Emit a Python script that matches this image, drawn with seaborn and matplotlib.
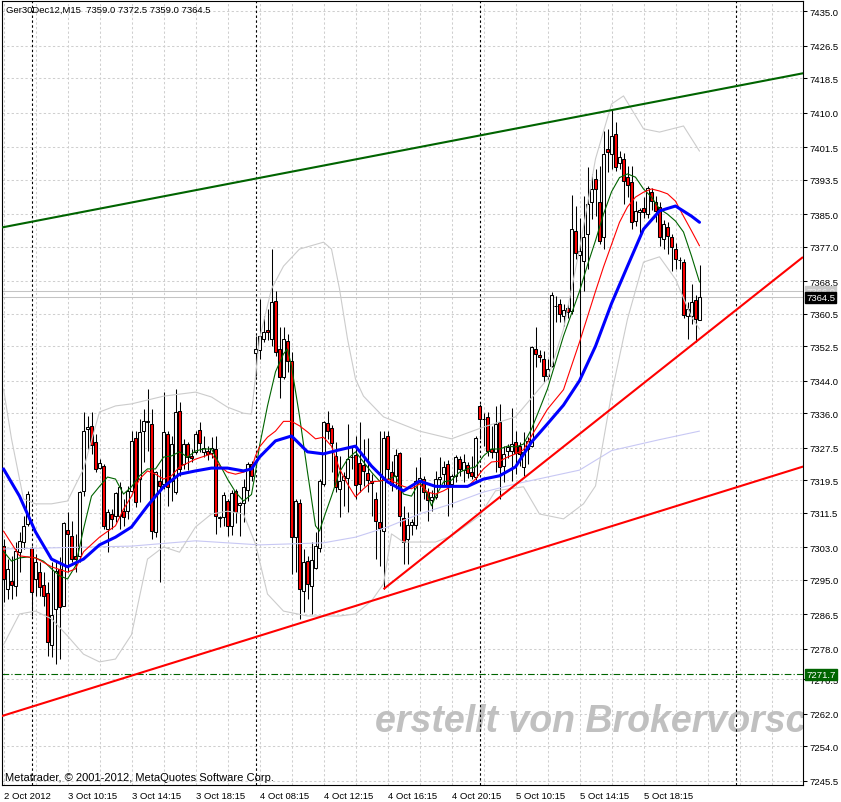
import matplotlib
matplotlib.use("Agg")
import numpy as np
import matplotlib.pyplot as plt
import matplotlib.transforms as mtransforms
import seaborn as sns

# ---------- Data (one entry per bar) ----------
opens = [
    7303.3, 7292.7, 7294.7, 7293.5, 7301.9, 7304.3, 7308.8, 7302.8, 7295.2, 7296.9,
    7293.7, 7291.8, 7279.0, 7287.8, 7297.7, 7288.5, 7307.2, 7305.8, 7300.9, 7300.9,
    7316.9, 7332.1, 7332.9, 7328.9, 7322.5, 7323.0, 7307.5, 7311.2, 7310.7, 7310.7,
    7312.0, 7311.9, 7316.9, 7329.9, 7319.8, 7331.6, 7333.8, 7333.4, 7306.8, 7319.3,
    7318.6, 7330.9, 7319.3, 7316.6, 7336.5, 7323.5, 7328.4, 7325.5, 7326.5, 7331.9,
    7326.5, 7326.7, 7326.2, 7327.2, 7310.2, 7310.5, 7314.4, 7308.3, 7316.9, 7313.5,
    7313.9, 7317.1, 7323.5, 7350.8, 7351.6, 7354.3, 7356.5, 7354.3, 7363.6, 7351.8,
    7344.9, 7353.8, 7348.9, 7305.5, 7313.9, 7292.2, 7299.6, 7293.5, 7297.9, 7302.8,
    7318.6, 7333.6, 7332.4, 7325.5, 7317.4, 7319.6, 7320.1, 7325.2, 7325.7, 7323.8,
    7323.3, 7321.3, 7319.3, 7314.9, 7309.2, 7307.0, 7330.4, 7321.5, 7320.6, 7326.2,
    7310.2, 7305.0, 7308.5, 7308.5, 7319.3, 7319.8, 7316.6, 7314.6, 7315.4, 7319.8,
    7321.0, 7323.5, 7318.6, 7320.6, 7324.8, 7322.0, 7323.3, 7321.5, 7320.3, 7337.8,
    7334.6, 7335.1, 7327.2, 7326.5, 7333.9, 7323.0, 7326.7, 7326.7, 7328.9, 7327.9,
    7322.8, 7327.2, 7327.9, 7351.8, 7350.3, 7349.3, 7345.2, 7347.6, 7362.3, 7362.9,
    7359.9, 7361.9, 7361.2, 7380.9, 7375.0, 7373.5, 7380.0, 7388.0, 7393.6, 7388.0,
    7379.4, 7401.0, 7399.8, 7404.7, 7397.6, 7398.6, 7394.1, 7392.9, 7383.3, 7385.5,
    7386.5, 7385.0, 7390.4, 7388.0, 7386.8, 7378.9, 7381.8, 7379.4, 7376.4, 7373.6,
    7373.2, 7359.9, 7359.9, 7363.9, 7359.0,
]
highs = [
    7305.0, 7300.1, 7300.9, 7304.3, 7306.8, 7310.7, 7316.9, 7303.3, 7301.4, 7299.4,
    7296.9, 7294.5, 7299.4, 7299.4, 7300.6, 7309.2, 7311.7, 7309.5, 7306.3, 7316.9,
    7336.3, 7335.3, 7336.3, 7330.9, 7324.8, 7323.5, 7312.4, 7312.4, 7316.6, 7319.1,
    7314.9, 7318.0, 7331.6, 7331.6, 7334.6, 7337.0, 7342.0, 7337.0, 7321.8, 7322.3,
    7341.2, 7331.6, 7330.4, 7342.0, 7338.8, 7329.7, 7329.0, 7327.2, 7331.6, 7333.8,
    7330.4, 7327.9, 7330.1, 7330.4, 7310.7, 7316.6, 7315.0, 7317.0, 7317.4, 7314.2,
    7319.8, 7324.0, 7324.2, 7355.0, 7364.1, 7360.0, 7361.7, 7376.4, 7366.1, 7357.2,
    7357.2, 7355.5, 7351.1, 7314.9, 7314.9, 7302.6, 7300.9, 7304.3, 7306.8, 7319.8,
    7334.1, 7336.5, 7333.0, 7328.9, 7325.5, 7321.5, 7333.4, 7327.7, 7330.4, 7333.8,
    7329.7, 7329.9, 7321.0, 7316.6, 7331.6, 7331.6, 7331.6, 7324.2, 7327.2, 7326.5,
    7313.2, 7311.7, 7310.0, 7322.8, 7325.2, 7320.5, 7317.5, 7317.0, 7321.8, 7325.2,
    7324.2, 7324.5, 7321.0, 7325.7, 7325.5, 7326.0, 7324.0, 7325.5, 7330.4, 7338.3,
    7336.0, 7336.3, 7332.9, 7337.8, 7338.3, 7328.0, 7328.5, 7337.3, 7331.6, 7329.0,
    7331.4, 7330.1, 7352.5, 7357.2, 7351.5, 7351.3, 7349.3, 7365.8, 7364.9, 7364.1,
    7363.0, 7363.0, 7389.7, 7387.0, 7384.0, 7389.5, 7396.6, 7394.9, 7396.1, 7396.9,
    7405.5, 7406.0, 7410.9, 7407.7, 7400.5, 7400.0, 7396.9, 7396.9, 7388.2, 7386.5,
    7389.2, 7391.9, 7391.5, 7389.5, 7388.0, 7383.5, 7383.0, 7380.0, 7378.0, 7374.5,
    7374.0, 7363.4, 7367.8, 7365.0, 7372.5,
]
lows = [
    7289.5, 7290.3, 7290.3, 7291.0, 7296.9, 7302.6, 7308.3, 7286.1, 7291.0, 7291.0,
    7288.6, 7276.3, 7276.0, 7274.3, 7275.5, 7288.5, 7296.9, 7299.4, 7296.9, 7299.4,
    7315.6, 7327.2, 7326.0, 7321.5, 7322.3, 7307.5, 7301.9, 7307.5, 7309.2, 7307.5,
    7308.3, 7310.0, 7316.6, 7312.9, 7314.2, 7324.0, 7326.7, 7305.0, 7305.5, 7294.5,
    7317.4, 7313.2, 7314.4, 7316.1, 7320.6, 7322.3, 7322.0, 7324.0, 7326.0, 7326.5,
    7325.2, 7324.5, 7325.0, 7306.3, 7308.0, 7308.3, 7305.8, 7306.0, 7309.0, 7305.8,
    7309.2, 7314.4, 7319.3, 7345.2, 7349.3, 7353.5, 7354.0, 7352.5, 7350.0, 7339.7,
    7344.4, 7346.2, 7296.4, 7296.9, 7285.4, 7287.1, 7290.3, 7286.6, 7297.7, 7301.9,
    7318.0, 7329.7, 7321.5, 7316.6, 7310.5, 7313.2, 7311.7, 7322.3, 7314.9, 7316.6,
    7318.0, 7316.6, 7310.7, 7300.1, 7298.4, 7292.7, 7319.8, 7316.9, 7317.4, 7308.3,
    7298.9, 7298.9, 7306.0, 7307.5, 7312.0, 7314.9, 7309.5, 7312.0, 7314.9, 7318.0,
    7318.0, 7310.7, 7312.9, 7319.0, 7320.5, 7319.0, 7320.0, 7319.8, 7319.5, 7329.7,
    7327.9, 7325.5, 7325.0, 7321.5, 7314.9, 7319.1, 7325.0, 7319.3, 7321.0, 7323.0,
    7320.6, 7323.5, 7327.7, 7347.4, 7348.5, 7343.7, 7344.4, 7347.4, 7358.5, 7358.5,
    7357.5, 7359.5, 7360.5, 7374.0, 7344.0, 7366.0, 7371.5, 7383.8, 7384.5, 7377.7,
    7376.4, 7395.4, 7396.1, 7395.6, 7396.1, 7387.5, 7389.2, 7381.3, 7382.1, 7379.6,
    7384.0, 7384.0, 7386.0, 7383.0, 7377.2, 7376.4, 7375.2, 7371.0, 7371.5, 7371.5,
    7359.5, 7354.3, 7358.0, 7353.5, 7359.0,
]
closes = [
    7295.2, 7297.7, 7293.7, 7302.1, 7304.6, 7308.3, 7316.1, 7292.0, 7299.4, 7293.2,
    7291.0, 7279.7, 7286.3, 7297.2, 7288.3, 7309.0, 7306.3, 7300.1, 7300.1, 7316.6,
    7331.6, 7332.6, 7328.2, 7322.3, 7323.8, 7308.3, 7311.7, 7310.0, 7316.4, 7317.9,
    7310.5, 7316.9, 7329.2, 7314.2, 7331.4, 7334.1, 7334.0, 7307.0, 7321.5, 7318.0,
    7331.4, 7317.9, 7328.4, 7336.3, 7322.3, 7328.4, 7325.2, 7325.0, 7330.9, 7328.7,
    7327.4, 7326.0, 7327.4, 7310.7, 7310.3, 7315.9, 7308.3, 7316.4, 7311.7, 7313.8,
    7317.9, 7323.5, 7320.6, 7351.8, 7355.0, 7356.0, 7356.0, 7363.4, 7351.1, 7344.9,
    7354.3, 7348.9, 7305.5, 7314.4, 7292.7, 7299.4, 7294.0, 7299.9, 7303.3, 7319.3,
    7333.8, 7331.6, 7328.7, 7317.9, 7319.3, 7320.6, 7324.8, 7325.3, 7318.3, 7318.6,
    7321.8, 7319.6, 7318.8, 7309.5, 7307.8, 7329.9, 7322.3, 7318.3, 7325.7, 7310.7,
    7304.3, 7308.5, 7309.2, 7319.3, 7320.0, 7316.6, 7314.6, 7315.4, 7319.8, 7320.3,
    7322.8, 7318.0, 7320.6, 7325.2, 7322.3, 7324.0, 7321.3, 7320.6, 7329.9, 7334.6,
    7334.5, 7326.7, 7326.5, 7333.4, 7322.8, 7326.0, 7327.7, 7328.4, 7326.2, 7326.0,
    7326.5, 7329.2, 7352.3, 7350.6, 7349.8, 7345.2, 7346.9, 7365.1, 7362.5, 7360.4,
    7361.4, 7360.9, 7381.3, 7375.4, 7376.0, 7379.4, 7387.5, 7391.2, 7391.2, 7378.4,
    7399.8, 7400.3, 7404.2, 7396.6, 7399.1, 7393.2, 7392.1, 7383.0, 7385.8, 7386.0,
    7385.5, 7391.4, 7388.2, 7385.8, 7379.4, 7382.6, 7379.6, 7376.9, 7374.0, 7373.8,
    7360.2, 7361.6, 7363.4, 7359.2, 7364.5,
]

# indicator lines, sampled at the bars where they were read
blue_bars = [0, 4, 8, 12, 16, 20, 24, 28, 32, 36, 40, 44, 48, 52, 56, 60, 62, 64, 68, 72,
             76, 80, 84, 88, 92, 96, 100, 104, 108, 112, 116, 120, 124, 128, 132, 136, 140,
             144, 148, 152, 156, 160, 164, 168, 172, 174]
blue_vals = [7322.3, 7315.6, 7306.8, 7300.1, 7298.2, 7300.1, 7303.6, 7305.5, 7308.0, 7313.2,
             7317.9, 7321.0, 7321.8, 7322.5, 7322.5, 7321.8, 7322.3, 7325.2, 7329.2, 7330.4,
             7326.5, 7326.0, 7327.0, 7327.9, 7323.0, 7319.1, 7316.9, 7319.3, 7318.0, 7318.0,
             7318.0, 7319.8, 7320.6, 7322.8, 7328.9, 7333.4, 7338.0, 7344.0, 7352.5, 7363.0,
             7372.2, 7381.3, 7385.8, 7387.0, 7384.5, 7383.0]

red_bars = [0, 4, 8, 12, 16, 18, 20, 24, 28, 30, 32, 34, 36, 38, 40, 42, 44, 48, 52, 54,
            56, 58, 60, 62, 63, 64, 66, 68, 70, 72, 74, 76, 78, 80, 82, 84, 86, 88, 90, 92,
            94, 96, 100, 102, 104, 106, 108, 110, 112, 116, 118, 120, 122, 124, 126, 128,
            130, 132, 136, 140, 144, 148, 150, 152, 154, 156, 158, 160, 162, 164, 166, 168,
            170, 172, 174]
red_vals = [7307.0, 7300.9, 7300.4, 7298.2, 7296.9, 7297.7, 7301.9, 7305.5, 7308.3, 7312.4,
            7315.6, 7319.8, 7321.8, 7321.0, 7319.8, 7320.6, 7322.8, 7324.7, 7326.0, 7323.0,
            7321.5, 7321.0, 7321.5, 7322.3, 7325.5, 7327.7, 7330.1, 7331.6, 7334.0, 7334.0,
            7332.9, 7331.4, 7329.7, 7330.1, 7327.9, 7322.3, 7318.6, 7315.4, 7317.4, 7319.1,
            7319.3, 7319.8, 7318.0, 7317.4, 7318.6, 7316.6, 7316.1, 7316.9, 7318.0, 7317.9,
            7319.8, 7322.3, 7324.0, 7324.2, 7325.2, 7326.0, 7327.0, 7330.4, 7337.0, 7341.8,
            7353.5, 7366.0, 7372.0, 7377.5, 7383.0, 7386.8, 7389.2, 7390.4, 7391.2, 7390.7,
            7390.0, 7388.2, 7384.5, 7380.9, 7377.2]

green_bars = [0, 2, 4, 6, 8, 10, 12, 14, 16, 18, 20, 22, 24, 26, 28, 30, 32, 34, 36, 38,
              40, 42, 44, 46, 48, 50, 52, 54, 56, 58, 60, 62, 63, 64, 66, 68, 70, 71, 72, 74,
              76, 78, 79, 80, 82, 84, 86, 88, 90, 92, 94, 96, 98, 100, 102, 104, 106, 107,
              108, 110, 112, 114, 116, 118, 120, 122, 124, 126, 128, 130, 132, 134, 136, 138,
              140, 142, 144, 146, 148, 150, 152, 154, 156, 158, 160, 162, 164, 166, 168, 170,
              172, 174]
green_vals = [7302.0, 7299.6, 7300.4, 7300.6, 7300.4, 7299.6, 7297.7, 7296.0, 7295.2, 7298.4,
              7307.5, 7315.6, 7318.0, 7320.3, 7319.8, 7316.1, 7317.9, 7320.6, 7322.3, 7322.3,
              7325.2, 7325.5, 7326.5, 7325.2, 7326.7, 7327.2, 7327.2, 7323.5, 7319.8, 7316.6,
              7314.4, 7316.0, 7321.5, 7327.9, 7337.8, 7346.2, 7350.6, 7351.8, 7347.6, 7335.3,
              7321.5, 7308.3, 7307.0, 7310.0, 7315.6, 7321.5, 7324.7, 7326.5, 7324.0, 7321.5,
              7319.3, 7319.6, 7320.6, 7316.1, 7315.6, 7319.1, 7316.0, 7313.2, 7315.4, 7319.1,
              7319.5, 7321.5, 7322.3, 7322.8, 7325.5, 7327.2, 7327.2, 7327.9, 7327.7, 7328.4,
              7332.1, 7337.0, 7342.0, 7348.5, 7355.0, 7360.5, 7366.0, 7372.5, 7378.5, 7385.0,
              7390.5, 7394.0, 7394.9, 7394.1, 7391.2, 7389.2, 7386.3, 7385.0, 7383.3, 7380.6,
              7374.7, 7368.3]

bb_up_bars = [0, 2, 5, 8, 12, 16, 20, 24, 28, 32, 40, 48, 52, 56, 60, 62, 64, 67, 70, 74,
              80, 82, 84, 86, 88, 90, 95, 104, 112, 120, 128, 136, 140, 144, 148, 152, 155,
              160, 164, 170, 174]
bb_up_vals = [7342.0, 7329.7, 7314.9, 7313.7, 7313.7, 7314.4, 7322.3, 7336.3, 7337.8, 7338.3,
              7340.2, 7341.2, 7340.0, 7337.5, 7336.0, 7335.8, 7354.3, 7366.6, 7372.2, 7376.4,
              7378.1, 7376.4, 7366.6, 7354.3, 7344.4, 7340.2, 7335.1, 7331.6, 7329.7, 7332.6,
              7335.1, 7344.4, 7356.7, 7376.4, 7398.6, 7412.1, 7414.1, 7406.0, 7405.2, 7406.7,
              7400.5]

bb_lo_bars = [0, 4, 8, 12, 16, 20, 24, 28, 32, 36, 40, 44, 48, 52, 56, 60, 63, 66, 70, 76,
              84, 88, 92, 95, 97, 100, 108, 112, 119, 123, 130, 134, 140, 145, 148, 152, 156,
              160, 164, 168, 172, 174]
bb_lo_vals = [7279.0, 7286.6, 7287.3, 7285.4, 7281.2, 7276.7, 7274.8, 7275.5, 7281.5, 7300.1,
              7303.1, 7301.8, 7308.0, 7311.2, 7311.9, 7311.2, 7303.8, 7291.5, 7287.3, 7286.1,
              7286.1, 7286.6, 7289.8, 7294.0, 7306.3, 7304.3, 7304.3, 7305.8, 7310.7, 7316.9,
              7317.9, 7311.2, 7310.0, 7313.7, 7318.1, 7340.7, 7359.2, 7373.2, 7374.5, 7369.0,
              7359.7, 7356.7]

slow_bars = [0, 32, 48, 64, 80, 88, 96, 104, 112, 120, 128, 144, 152, 164, 174]
slow_vals = [7302.6, 7303.3, 7304.6, 7303.6, 7304.1, 7305.5, 7308.0, 7311.2, 7313.7, 7316.6,
             7318.6, 7322.0, 7326.8, 7329.5, 7331.6]

# trendlines: two anchor points each (bar, price)
chan_top_bars = [0, 152]
chan_top_vals = [7381.8, 7410.6]
chan_low_bars = [0, 199]
chan_low_vals = [7261.6, 7322.6]
ray_bars = [95, 173]
ray_vals = [7292.7, 7353.5]

ask_price = 7366.0
level_price = 7271.7
day_breaks = [7, 63, 119, 183]

tick_bars = [0, 16, 32, 48, 64, 80, 96, 112, 128, 144, 160]
tick_labels = ["2 Oct 2012", "3 Oct 10:15", "3 Oct 14:15", "3 Oct 18:15", "4 Oct 08:15",
               "4 Oct 12:15", "4 Oct 16:15", "4 Oct 20:15", "5 Oct 10:15", "5 Oct 14:15",
               "5 Oct 18:15"]
price_ticks = [7435.0, 7426.5, 7418.5, 7410.0, 7401.5, 7393.5, 7385.0, 7377.0, 7368.5, 7360.5,
               7352.5, 7344.0, 7336.0, 7327.5, 7319.5, 7311.5, 7303.0, 7295.0, 7286.5, 7278.0,
               7270.5, 7262.0, 7254.0, 7245.5]

# ---------- Style ----------
sns.set_style("white")
plt.rcParams["font.family"] = ["Liberation Sans", "DejaVu Sans"]

W, H = 841, 803
fig = plt.figure(figsize=(W / 100, H / 100), dpi=100)
fig.patch.set_facecolor("white")
ax = fig.add_axes([2 / W, (H - 786) / H, 801 / W, 784 / H])
ax.set_facecolor("white")

o = np.array(opens)
h = np.array(highs)
lo = np.array(lows)
c = np.array(closes)
x = np.arange(len(c))
up = c >= o

# ---------- Candles ----------
ax.vlines(x, lo, h, color="black", linewidth=0.75, zorder=2)
body = np.maximum(np.abs(c - o), 0.15)
ax.bar(x[up], body[up], bottom=o[up], width=0.6, color="white",
       edgecolor="black", linewidth=0.75, zorder=2.2)
ax.bar(x[~up], body[~up], bottom=c[~up], width=0.6, color="#ff0000",
       edgecolor="black", linewidth=0.75, zorder=2.2)

# ---------- Indicators ----------
sns.lineplot(x=slow_bars, y=slow_vals, ax=ax, color="#c8c8f4", linewidth=0.8, zorder=3)
sns.lineplot(x=bb_up_bars, y=bb_up_vals, ax=ax, color="#cccccc", linewidth=0.8, zorder=3)
sns.lineplot(x=bb_lo_bars, y=bb_lo_vals, ax=ax, color="#cccccc", linewidth=0.8, zorder=3)
sns.lineplot(x=green_bars, y=green_vals, ax=ax, color="#006400", linewidth=0.8, zorder=3.2)
sns.lineplot(x=red_bars, y=red_vals, ax=ax, color="#ff0000", linewidth=0.8, zorder=3.3)
sns.lineplot(x=blue_bars, y=blue_vals, ax=ax, color="#0000ff", linewidth=2.2, zorder=3.4)

# ---------- Trendlines ----------
ax.axline((chan_top_bars[0], chan_top_vals[0]), (chan_top_bars[1], chan_top_vals[1]),
          color="#006400", linewidth=1.5, zorder=4)
ax.axline((chan_low_bars[0], chan_low_vals[0]), (chan_low_bars[1], chan_low_vals[1]),
          color="#ff0000", linewidth=1.5, zorder=4)
x_right = (803 - 3.5) / 4
slope = (ray_vals[1] - ray_vals[0]) / (ray_bars[1] - ray_bars[0])
ax.plot([ray_bars[0], x_right], [ray_vals[0], ray_vals[0] + slope * (x_right - ray_bars[0])],
        color="#ff0000", linewidth=1.5, zorder=4, solid_capstyle="butt")

# bid / ask and horizontal level
ax.axhline(ask_price, color="#c4c4c4", linewidth=0.75, zorder=1.5)
ax.axhline(c[-1], color="#c4c4c4", linewidth=0.75, zorder=1.5)
ax.axhline(level_price, color="#006400", linewidth=0.8, linestyle=(0, (6, 2, 1, 2)), zorder=1.6)

for b in day_breaks:
    ax.axvline(b, color="black", linewidth=0.8, linestyle=(0, (2.2, 2.2)), zorder=1.4)

# ---------- Axes ----------
ax.set_xlim((2 - 3.5) / 4, x_right)
ax.set_ylim(7435 - 774 / 4.063, 7435 + 10 / 4.063)
ax.set_xlabel("")
ax.set_ylabel("")

ax.set_xticks(tick_bars)
ax.set_xticklabels(tick_labels, ha="left")
ax.set_xticks(np.arange(0, 200, 8), minor=True)
ax.set_yticks(price_ticks)
ax.set_yticklabels([f"{v:.1f}" for v in price_ticks])
ax.yaxis.tick_right()
ax.tick_params(axis="both", which="major", direction="out", length=3, width=0.75,
               colors="black", labelsize=6.8, pad=1.5)
ax.tick_params(axis="x", which="minor", length=0)
ax.grid(True, axis="x", which="both", color="#cfcfcf", linewidth=0.75,
        linestyle=(0, (2.2, 2.2)), zorder=0)
ax.grid(True, axis="y", which="major", color="#cfcfcf", linewidth=0.75,
        linestyle=(0, (2.2, 2.2)), zorder=0)
ax.set_axisbelow(True)
for sp in ax.spines.values():
    sp.set_visible(True)
    sp.set_color("black")
    sp.set_linewidth(0.8)

# ---------- Texts ----------
ax.text(4 / 801, 1 - 8 / 784,
        f"Ger30Dec12,M15  {o[-1]:.1f} {h[-1]:.1f} {lo[-1]:.1f} {c[-1]:.1f}",
        transform=ax.transAxes, fontsize=6.8, ha="left", va="center", color="black", zorder=5)
ax.text(3 / 801, 8 / 784, "Metatrader, \u00a9 2001-2012, MetaQuotes Software Corp.",
        transform=ax.transAxes, fontsize=8.0, ha="left", va="center", color="black", zorder=5)
# watermark, clipped by the plot frame as in the terminal
ax.text((375 - 2) / 801, (786 - 732) / 784, "erstellt von Brokervorschlag.de",
        transform=ax.transAxes, fontsize=27, fontweight="bold", fontstyle="italic",
        color="#c0c0c0", ha="left", va="baseline", clip_on=True, zorder=1)

# price boxes on the right axis
side = mtransforms.blended_transform_factory(ax.transAxes, ax.transData)
box_x = 1 + 3 / 801
ax.text(box_x, ask_price, f"{ask_price:.1f}", transform=side, fontsize=6.8, color="#eeeeee",
        ha="left", va="center", clip_on=False, zorder=6,
        bbox=dict(boxstyle="square,pad=0.12", fc="#c8c8c8", ec="#c8c8c8"))
ax.text(box_x, c[-1], f"{c[-1]:.1f}", transform=side, fontsize=6.8, color="white",
        ha="left", va="center", clip_on=False, zorder=7,
        bbox=dict(boxstyle="square,pad=0.12", fc="black", ec="black"))
ax.text(box_x, level_price, f"{level_price:.1f}", transform=side, fontsize=6.8, color="white",
        ha="left", va="center", clip_on=False, zorder=7,
        bbox=dict(boxstyle="square,pad=0.12", fc="#006400", ec="#006400"))

fig.savefig("out.png", dpi=100, facecolor="white")
